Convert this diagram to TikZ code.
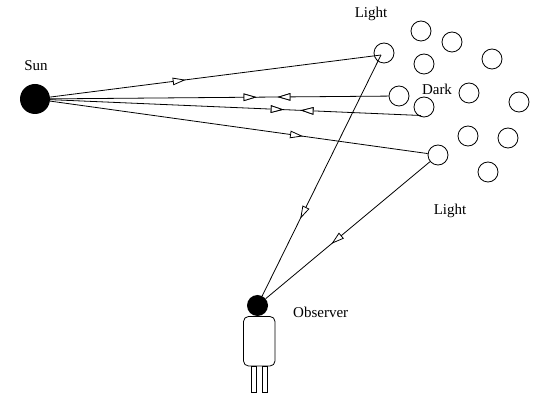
\documentclass[tikz,border=0pt]{standalone}
\usepackage{fontspec}
\setmainfont{Liberation Serif}
\usetikzlibrary{arrows.meta,decorations.markings,calc}

\tikzset{
  ray/.style={line width=0.8pt},
  drop/.style={draw, circle, line width=0.8pt, minimum size=20pt, inner sep=0pt},
  lbl/.style={font=\fontsize{15}{18}\selectfont, inner sep=0pt},
  fwd/.style={postaction={decorate}, decoration={markings,
      mark=at position #1 with {\arrow{Triangle[open, length=13pt, width=7.5pt, line width=0.8pt, fill=white]}}}},
  bwd/.style={postaction={decorate}, decoration={markings,
      mark=at position #1 with {\arrow{Triangle[open, reversed, length=13pt, width=7.5pt, line width=0.8pt, fill=white]}}}}
}

\begin{document}
\begin{tikzpicture}[x=1pt, y=-1pt]
  \useasboundingbox (0,0) rectangle (533,395);

  % the sun
  \node[circle, fill=black, minimum size=30pt, inner sep=0pt] (sun) at (35,99) {};
  \node[lbl] (sunlbl) at (36,66) {Sun};

  % droplets
  \node[drop] (l1) at (384,53) {};
  \node[drop] (d2) at (421,31) {};
  \node[drop] (d3) at (452,42) {};
  \node[drop] (d4) at (492,59) {};
  \node[drop] (d5) at (424,64) {};
  \node[drop] (d6) at (399,96) {};
  \node[drop] (d7) at (424,107) {};
  \node[drop] (d8) at (469,93) {};
  \node[drop] (d9) at (519,102) {};
  \node[drop] (d10) at (468,136) {};
  \node[drop] (d11) at (508,138) {};
  \node[drop] (l2) at (438,155) {};
  \node[drop] (d13) at (488,172) {};

  \node[lbl] (lighttop) at (371,14) {Light};
  \node[lbl] (dark) at (437,89) {Dark};
  \node[lbl] (lightbot) at (450,211) {Light};

  % observer
  \node[circle, fill=black, minimum size=21pt, inner sep=0pt] (head) at (257.5,305.5) {};
  \draw[line width=0.8pt, rounded corners=5pt] (243.5,316.5) rectangle (275,366);
  \draw[line width=0.8pt] (251.7,366) rectangle (256.7,392);
  \draw[line width=0.8pt] (262.3,366) rectangle (267.3,392);
  \node[lbl, anchor=west] (obs) at (293,312) {Observer};

  % ray end points inside the droplets
  \coordinate (l1in) at ($(l1)+(-3,2)$);
  \coordinate (d7in) at ($(d7)+(-3,8.5)$);

  % rays from the sun
  \draw[ray, fwd=0.41] (sun) -- (l1in);
  \draw[ray, fwd=0.61, bwd=0.71] (sun) -- (d6);
  \draw[ray, fwd=0.63, bwd=0.71] (sun) -- (d7in);
  \draw[ray, fwd=0.67] (sun) -- (l2);

  % rays to the observer
  \draw[ray, fwd=0.68] (l1in) -- (head);
  \draw[ray, fwd=0.60] (l2) -- (head);
\end{tikzpicture}
\end{document}
